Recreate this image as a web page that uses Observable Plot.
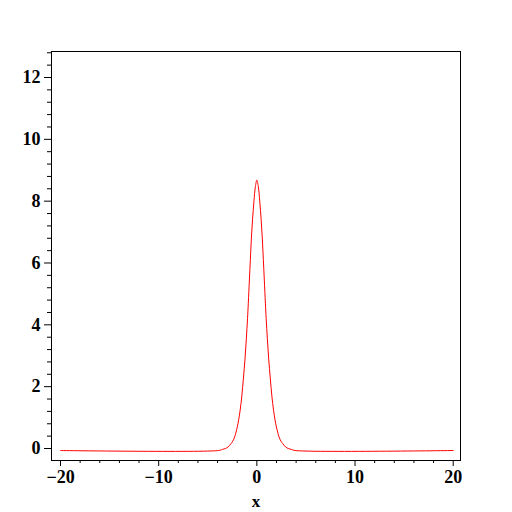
<!DOCTYPE html>
<html><head><meta charset="utf-8">
<script src="https://cdn.jsdelivr.net/npm/d3@7"></script>
<script src="https://cdn.jsdelivr.net/npm/@observablehq/plot@0.6"></script>
<style>html,body{margin:0;padding:0;background:#fff;} #chart svg{display:block}</style>
</head><body><div id="chart"></div>
<script>
// Curve (x, value)
const xValues = [-20, -3.9, -3.51, -3.2, -2.93, -2.63, -2.45, -2.26, -1.99, -1.85, -1.70, -1.53, -1.375, -1.2, -1.07, -0.95, -0.87, -0.76, -0.66, -0.56, -0.44, -0.30, -0.15,
  0,
  0.15, 0.30, 0.44, 0.56, 0.66, 0.76, 0.87, 0.95, 1.07, 1.2, 1.375, 1.53, 1.70, 1.85, 1.99, 2.26, 2.45, 2.63, 2.93, 3.2, 3.51, 3.9, 20];
const yValues = [-0.065, -0.065, -0.03, 0.0, 0.05, 0.16, 0.24, 0.375, 0.70, 0.93, 1.24, 1.70, 2.25, 2.92, 3.55, 4.20, 4.70, 5.45, 6.12, 6.78, 7.40, 7.98, 8.47,
  8.68,
  8.47, 7.98, 7.40, 6.78, 6.12, 5.45, 4.70, 4.20, 3.55, 2.92, 2.25, 1.70, 1.24, 0.93, 0.70, 0.375, 0.24, 0.16, 0.05, 0.0, -0.03, -0.065, -0.065];

const xMajorTicks = [-20, -10, 0, 10, 20];
const xMinorTicks = [-18, -16, -14, -12, -8, -6, -4, -2, 2, 4, 6, 8, 12, 14, 16, 18];
const yMajorTicks = [0, 2, 4, 6, 8, 10, 12];
const yMinorTicks = [0.4, 0.8, 1.2, 1.6, 2.4, 2.8, 3.2, 3.6, 4.4, 4.8, 5.2, 5.6, 6.4, 6.8, 7.2, 7.6,
  8.4, 8.8, 9.2, 9.6, 10.4, 10.8, 11.2, 11.6, 12.4, 12.8];
const xLabel = "x";

const data = xValues.map((x, i) => ({x, y: yValues[i]}));

const chart = Plot.plot({
  width: 512,
  height: 512,
  marginLeft: 51,
  marginRight: 52,
  marginTop: 51,
  marginBottom: 52,
  x: {domain: [-20.917, 20.744]},
  y: {domain: [-0.388, 12.841]},
  style: {background: "#fff", color: "#000", fontFamily: "'Liberation Serif', serif", fontSize: "18px"},
  marks: [
    Plot.frame({stroke: "#000"}),
    Plot.axisX({ticks: xMinorTicks, tickSize: 3, tickFormat: () => "", label: null}),
    Plot.axisX({ticks: xMajorTicks, tickSize: 6, tickPadding: 4, label: null, fontSize: 18, fontWeight: "bold"}),
    Plot.axisY({ticks: yMinorTicks, tickSize: 4, tickFormat: () => "", label: null}),
    Plot.axisY({ticks: yMajorTicks, tickSize: 7, tickPadding: 4, label: null, fontSize: 18, fontWeight: "bold"}),
    Plot.line(data, {x: "x", y: "y", stroke: "#ff0000", strokeWidth: 1, curve: "catmull-rom"}),
    Plot.text([xLabel], {text: d => d, frameAnchor: "bottom", dy: 41.5, lineAnchor: "middle", fontSize: 17, fontWeight: "bold"})
  ]
});
document.getElementById("chart").appendChild(chart);
</script>
</body></html>
